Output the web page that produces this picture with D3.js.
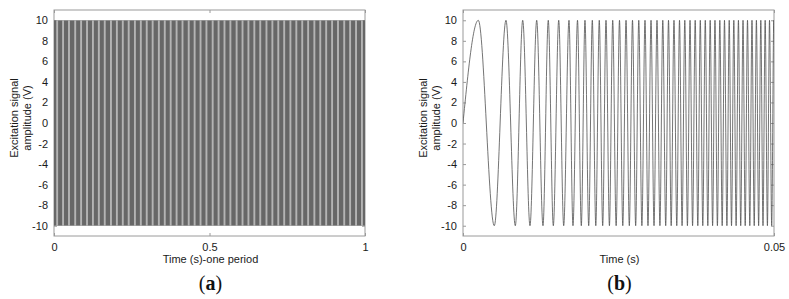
<!DOCTYPE html>
<html>
<head>
<meta charset="utf-8">
<script src="https://cdn.jsdelivr.net/npm/d3@7"></script>
<style>
  body { margin: 0; background: #fff; }
  svg text { font-family: "Liberation Sans", Arial, sans-serif; }
</style>
</head>
<body>
<svg id="chart" width="789" height="299"></svg>
<script>
// y ticks shared by both panels
const yTicks = [-10, -8, -6, -4, -2, 0, 2, 4, 6, 8, 10];
const amplitude = 10;

// (a) one period: aliased dense sweep, light stripe positions (s)
const leftTicks = [0, 0.5, 1];
const leftStripes = [0.010, 0.029, 0.048, 0.068, 0.087, 0.106, 0.125, 0.144, 0.163, 0.183,
  0.202, 0.221, 0.240, 0.260, 0.279, 0.298, 0.317, 0.337, 0.356, 0.375,
  0.394, 0.413, 0.433, 0.452, 0.471, 0.490, 0.510, 0.529, 0.548, 0.567,
  0.587, 0.606, 0.625, 0.644, 0.663, 0.683, 0.702, 0.721, 0.740, 0.760,
  0.779, 0.798, 0.817, 0.837, 0.856, 0.875, 0.894, 0.913, 0.933, 0.952,
  0.971, 0.990];

// (b) first 0.05 s: times of the peaks (+10) and troughs (-10)
const rightTicks = [0, 0.05];
const peakTimes = [0.00246, 0.00691, 0.00960, 0.01185, 0.01371, 0.01539, 0.01704, 0.01841,
  0.01961, 0.02079, 0.02191, 0.02299, 0.02407, 0.02516, 0.02621, 0.02725, 0.02826, 0.02926,
  0.03023, 0.03119, 0.03212, 0.03304, 0.03392, 0.03481, 0.03566, 0.03650, 0.03733, 0.03815,
  0.03895, 0.03974, 0.04051, 0.04129, 0.04204, 0.04280, 0.04354, 0.04428, 0.04502, 0.04574,
  0.04646, 0.04717, 0.04788, 0.04858, 0.04928, 0.04997];
const troughTimes = [0.00503, 0.00841, 0.01077, 0.01286, 0.01452, 0.01619, 0.01768, 0.01902,
  0.02021, 0.02135, 0.02246, 0.02354, 0.02462, 0.02569, 0.02674, 0.02776, 0.02876, 0.02974,
  0.03071, 0.03166, 0.03259, 0.03347, 0.03437, 0.03522, 0.03608, 0.03691, 0.03775, 0.03855,
  0.03936, 0.04013, 0.04090, 0.04167, 0.04243, 0.04317, 0.04391, 0.04465, 0.04537, 0.04611,
  0.04682, 0.04753, 0.04823, 0.04894, 0.04963];

const svg = d3.select('#chart');
const plotTop = 10, plotBottom = 236;
const y = d3.scaleLinear([-11, 11], [plotBottom, plotTop]);
const plain = d => String(d); // hyphen minus like the original

const panel = (x0, x1, domain, xTicks, xLabel, tag, clipId) => {
  const x = d3.scaleLinear(domain, [x0, x1]);
  const g = svg.append('g');

  g.append('clipPath').attr('id', clipId)
    .append('rect').attr('x', x0).attr('y', plotTop).attr('width', x1 - x0).attr('height', plotBottom - plotTop);

  // box + inward ticks on all four sides
  const axisCol = '#9a9a9a';
  g.append('rect').attr('x', x0).attr('y', plotTop).attr('width', x1 - x0).attr('height', plotBottom - plotTop)
    .attr('fill', 'none').attr('stroke', axisCol).attr('stroke-width', 1);

  const ax = [
    d3.axisLeft(y).tickValues(yTicks).tickSizeInner(-3).tickSizeOuter(0).tickPadding(6).tickFormat(plain),
    d3.axisRight(y).tickValues(yTicks).tickSizeInner(-3).tickSizeOuter(0).tickFormat(''),
    d3.axisBottom(x).tickValues(xTicks).tickSizeInner(-3).tickSizeOuter(0).tickPadding(7).tickFormat(plain),
    d3.axisTop(x).tickValues(xTicks).tickSizeInner(-3).tickSizeOuter(0).tickFormat('')
  ];
  const pos = [[x0, 0], [x1, 0], [0, plotBottom], [0, plotTop]];
  ax.forEach((a, i) => {
    const ag = g.append('g').attr('transform', `translate(${pos[i][0]},${pos[i][1]})`).call(a);
    ag.select('.domain').remove();
    ag.selectAll('line').attr('stroke', axisCol);
    ag.selectAll('text').attr('font-size', 11).attr('fill', '#1a1a1a')
      .attr('font-family', '"Liberation Sans", Arial, sans-serif');
  });

  g.append('text').attr('x', (x0 + x1) / 2 + 1).attr('y', 263).attr('text-anchor', 'middle')
    .attr('font-size', 11).attr('fill', '#1a1a1a').text(xLabel);

  const yl = g.append('text').attr('transform', `translate(${x0 - 36},${y(0) - 5}) rotate(-90)`)
    .attr('text-anchor', 'middle').attr('font-size', 11).attr('fill', '#1a1a1a');
  yl.append('tspan').attr('x', 0).attr('dy', 0).text('Excitation signal');
  yl.append('tspan').attr('x', 0).attr('dy', 12.5).text('amplitude (V)');

  const cap = g.append('text').attr('x', (x0 + x1) / 2 + 1).attr('y', 290).attr('text-anchor', 'middle')
    .attr('font-size', 20).attr('fill', '#111')
    .style('font-family', '"Liberation Serif", "DejaVu Serif", serif');
  cap.append('tspan').text('(');
  cap.append('tspan').attr('font-weight', 'bold').text(tag);
  cap.append('tspan').text(')');

  return { x, g };
};

// (a)
const a = panel(54, 365, [0, 1], leftTicks, 'Time (s)-one period', 'a', 'clipA');
const plotA = a.g.append('g').attr('clip-path', 'url(#clipA)');
plotA.append('rect')
  .attr('x', a.x(0)).attr('width', a.x(1) - a.x(0))
  .attr('y', y(amplitude)).attr('height', y(-amplitude) - y(amplitude))
  .attr('fill', '#676767');
plotA.selectAll('rect.stripe')
  .data(leftStripes)
  .join('rect')
  .attr('class', 'stripe')
  .attr('x', d => a.x(d) - 0.9).attr('width', 1.9)
  .attr('y', y(amplitude)).attr('height', y(-amplitude) - y(amplitude))
  .attr('fill', '#b4b4b4');

// (b)
const b = panel(463, 774, [0, 0.05], rightTicks, 'Time (s)', 'b', 'clipB');
const extrema = [[0, 0]]
  .concat(peakTimes.map(t => [t, amplitude]), troughTimes.map(t => [t, -amplitude]))
  .sort((p, q) => p[0] - q[0]);
extrema.push([0.05, amplitude * 0.9]);

const line = d3.line()
  .x(d => b.x(d[0]))
  .y(d => y(d[1]))
  .curve(d3.curveMonotoneX);

b.g.append('g').attr('clip-path', 'url(#clipB)')
  .append('path')
  .datum(extrema)
  .attr('d', line)
  .attr('fill', 'none')
  .attr('stroke', '#505050')
  .attr('stroke-width', 0.8);
</script>
</body>
</html>
